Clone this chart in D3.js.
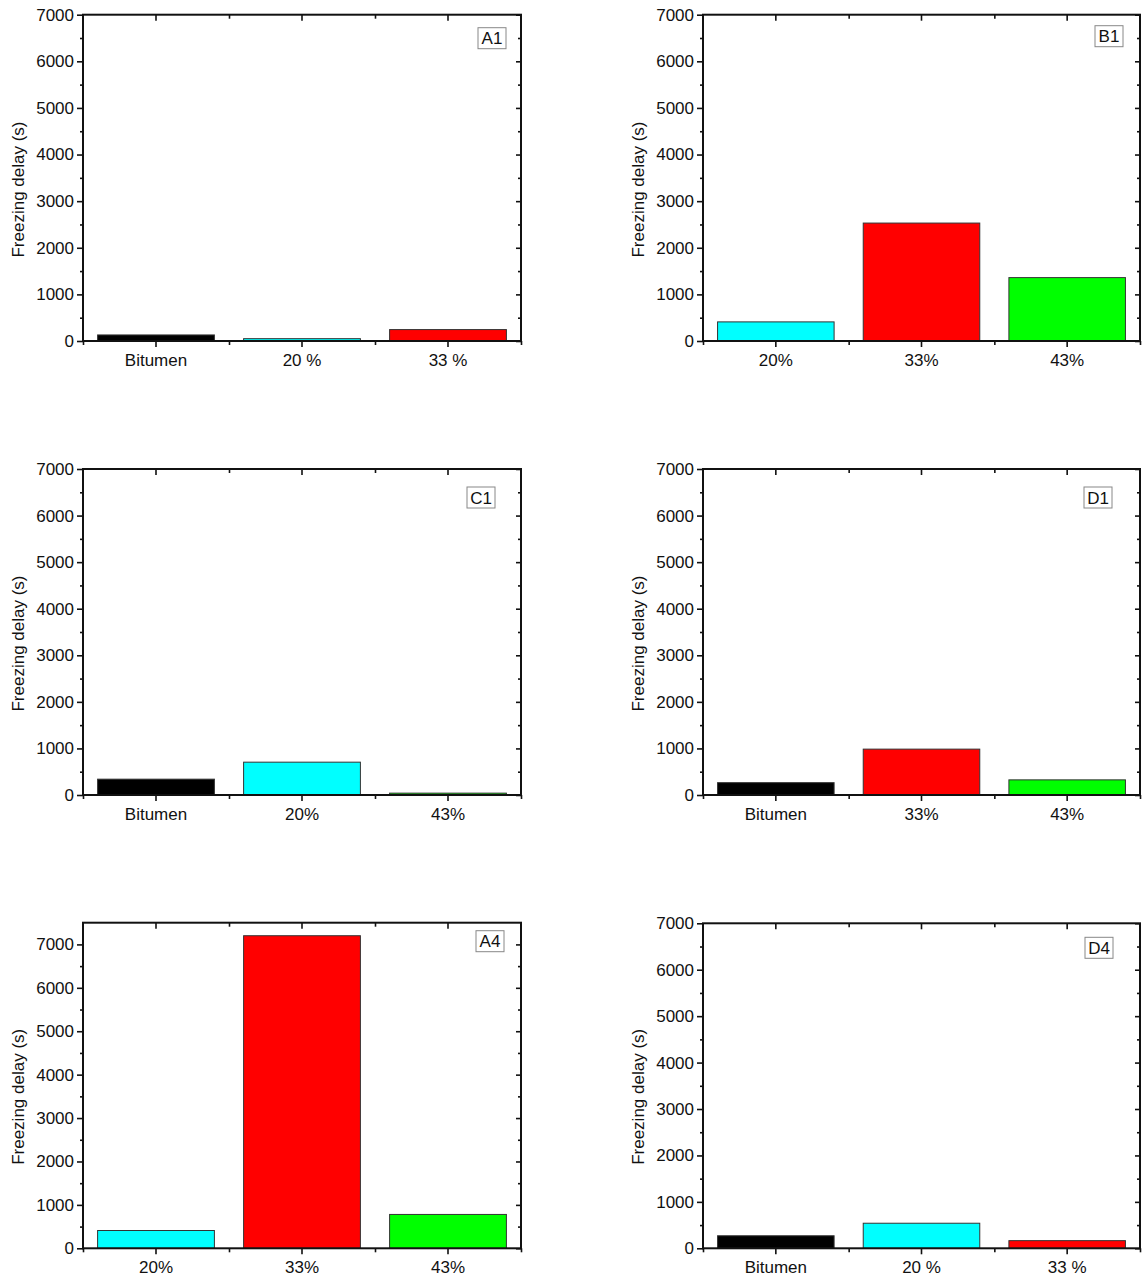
<!DOCTYPE html>
<html>
<head>
<meta charset="utf-8">
<script src="https://cdn.jsdelivr.net/npm/d3@7"></script>
<style>
  html, body { margin: 0; padding: 0; background: #fff; }
  svg { display: block; }
  text { font-family: "Liberation Sans", Arial, sans-serif; fill: #111; }
</style>
</head>
<body>
<svg id="fig" width="1142" height="1279"></svg>
<script>
// Freezing delay per sample, one small set per panel
const panelNames = ["A1", "B1", "C1", "D1", "A4", "D4"];

const categoriesA1 = ["Bitumen", "20 %", "33 %"];
const valuesA1     = [130, 50, 245];

const categoriesB1 = ["20%", "33%", "43%"];
const valuesB1     = [410, 2530, 1360];

const categoriesC1 = ["Bitumen", "20%", "43%"];
const valuesC1     = [340, 705, 40];

const categoriesD1 = ["Bitumen", "33%", "43%"];
const valuesD1     = [265, 985, 325];

const categoriesA4 = ["20%", "33%", "43%"];
const valuesA4     = [410, 7200, 780];

const categoriesD4 = ["Bitumen", "20 %", "33 %"];
const valuesD4     = [270, 540, 165];

// y-axis range and tick values
const yMaxByPanel  = [7000, 7000, 7000, 7000, 7500, 7000];
const yMajorTicks  = [0, 1000, 2000, 3000, 4000, 5000, 6000, 7000];
const yMinorTicks  = [500, 1500, 2500, 3500, 4500, 5500, 6500];
const yTitle = "Freezing delay (s)";

const categories = [categoriesA1, categoriesB1, categoriesC1, categoriesD1, categoriesA4, categoriesD4];
const values     = [valuesA1, valuesB1, valuesC1, valuesD1, valuesA4, valuesD4];

// Frame placement of each panel (pixels) and its tag box offset
const frames = [
  { left: 83,  right: 521,  top: 14.7,  bottom: 341,    tagDx: 15, tagDy: 13 },
  { left: 703, right: 1140, top: 14.7,  bottom: 341,    tagDx: 17, tagDy: 11 },
  { left: 83,  right: 521,  top: 469,   bottom: 795,    tagDx: 26, tagDy: 18 },
  { left: 703, right: 1140, top: 469,   bottom: 795,    tagDx: 28, tagDy: 18 },
  { left: 83,  right: 521,  top: 922.7, bottom: 1248.3, tagDx: 17, tagDy: 8 },
  { left: 703, right: 1140, top: 923.3, bottom: 1248.3, tagDx: 27, tagDy: 14 }
];

function barColour(cat) {
  if (cat.startsWith("Bitumen")) return "#000000";
  if (cat.startsWith("20")) return "#00ffff";
  if (cat.startsWith("33")) return "#ff0000";
  return "#00ff00";
}

const svg = d3.select("#fig");
const FONT = 17;
const FAMILY = "Liberation Sans, Arial, sans-serif";

panelNames.forEach((name, i) => {
  const f = frames[i];
  const cats = categories[i];
  const vals = values[i];
  const g = svg.append("g").attr("class", "panel");

  const x = d3.scaleBand().domain(cats).range([f.left, f.right])
    .paddingInner(0.2).paddingOuter(0.1);
  const xEdges = d3.scaleLinear().domain([0, cats.length]).range([f.left, f.right]);
  const y = d3.scaleLinear().domain([0, yMaxByPanel[i]]).range([f.bottom, f.top]);
  const majors = yMajorTicks.filter(v => v <= yMaxByPanel[i]);
  const minors = yMinorTicks.filter(v => v <= yMaxByPanel[i]);

  // bars
  g.selectAll("rect.bar").data(cats.map((c, k) => ({ c, v: vals[k] })))
    .join("rect").attr("class", "bar")
    .attr("x", d => x(d.c))
    .attr("width", x.bandwidth())
    .attr("y", d => y(d.v))
    .attr("height", d => y(0) - y(d.v))
    .attr("fill", d => barColour(d.c))
    .attr("stroke", "#333")
    .attr("stroke-width", 1);

  const styleAxis = sel => {
    sel.select(".domain").remove();
    sel.selectAll(".tick line").attr("stroke", "#111").attr("stroke-width", 1.6);
  };
  const styleText = sel => sel.selectAll("text")
    .attr("font-size", FONT).attr("fill", "#111").attr("font-family", FAMILY);

  // left axis: outward major + minor ticks
  g.append("g").attr("transform", `translate(${f.left},0)`)
    .call(d3.axisLeft(y).tickValues(majors).tickSize(6).tickPadding(3).tickFormat(d3.format("d")))
    .call(styleAxis).call(styleText);
  g.append("g").attr("transform", `translate(${f.left},0)`)
    .call(d3.axisLeft(y).tickValues(minors).tickSize(3).tickFormat(""))
    .call(styleAxis);

  // right axis: inward ticks
  g.append("g").attr("transform", `translate(${f.right},0)`)
    .call(d3.axisRight(y).tickValues(majors).tickSize(-5).tickFormat(""))
    .call(styleAxis);
  g.append("g").attr("transform", `translate(${f.right},0)`)
    .call(d3.axisRight(y).tickValues(minors).tickSize(-3).tickFormat(""))
    .call(styleAxis);

  // bottom axis: outward ticks at bar centres (labelled) and band edges
  g.append("g").attr("transform", `translate(0,${f.bottom})`)
    .call(d3.axisBottom(x).tickSize(6).tickPadding(7))
    .call(styleAxis).call(styleText);
  g.append("g").attr("transform", `translate(0,${f.bottom})`)
    .call(d3.axisBottom(xEdges).tickValues(d3.range(cats.length + 1)).tickSize(4).tickFormat(""))
    .call(styleAxis);

  // top axis: inward ticks
  g.append("g").attr("transform", `translate(0,${f.top})`)
    .call(d3.axisTop(x).tickSize(-6).tickFormat(""))
    .call(styleAxis);
  g.append("g").attr("transform", `translate(0,${f.top})`)
    .call(d3.axisTop(xEdges).tickValues(d3.range(1, cats.length)).tickSize(-4).tickFormat(""))
    .call(styleAxis);

  // frame
  g.append("rect")
    .attr("x", f.left).attr("y", f.top)
    .attr("width", f.right - f.left).attr("height", f.bottom - f.top)
    .attr("fill", "none").attr("stroke", "#111").attr("stroke-width", 2);

  // y title
  g.append("text")
    .attr("transform", `translate(${f.left - 59},${f.bottom - 151.5}) rotate(-90)`)
    .attr("text-anchor", "middle")
    .attr("font-size", FONT)
    .text(yTitle);

  // panel tag
  const tagW = 28, tagH = 21;
  const tx = f.right - f.tagDx - tagW, ty = f.top + f.tagDy;
  g.append("rect").attr("x", tx).attr("y", ty).attr("width", tagW).attr("height", tagH)
    .attr("fill", "#fff").attr("stroke", "#888").attr("stroke-width", 1);
  g.append("text").attr("x", tx + tagW / 2).attr("y", ty + tagH / 2 + 6)
    .attr("text-anchor", "middle").attr("font-size", FONT).text(name);
});
</script>
</body>
</html>
